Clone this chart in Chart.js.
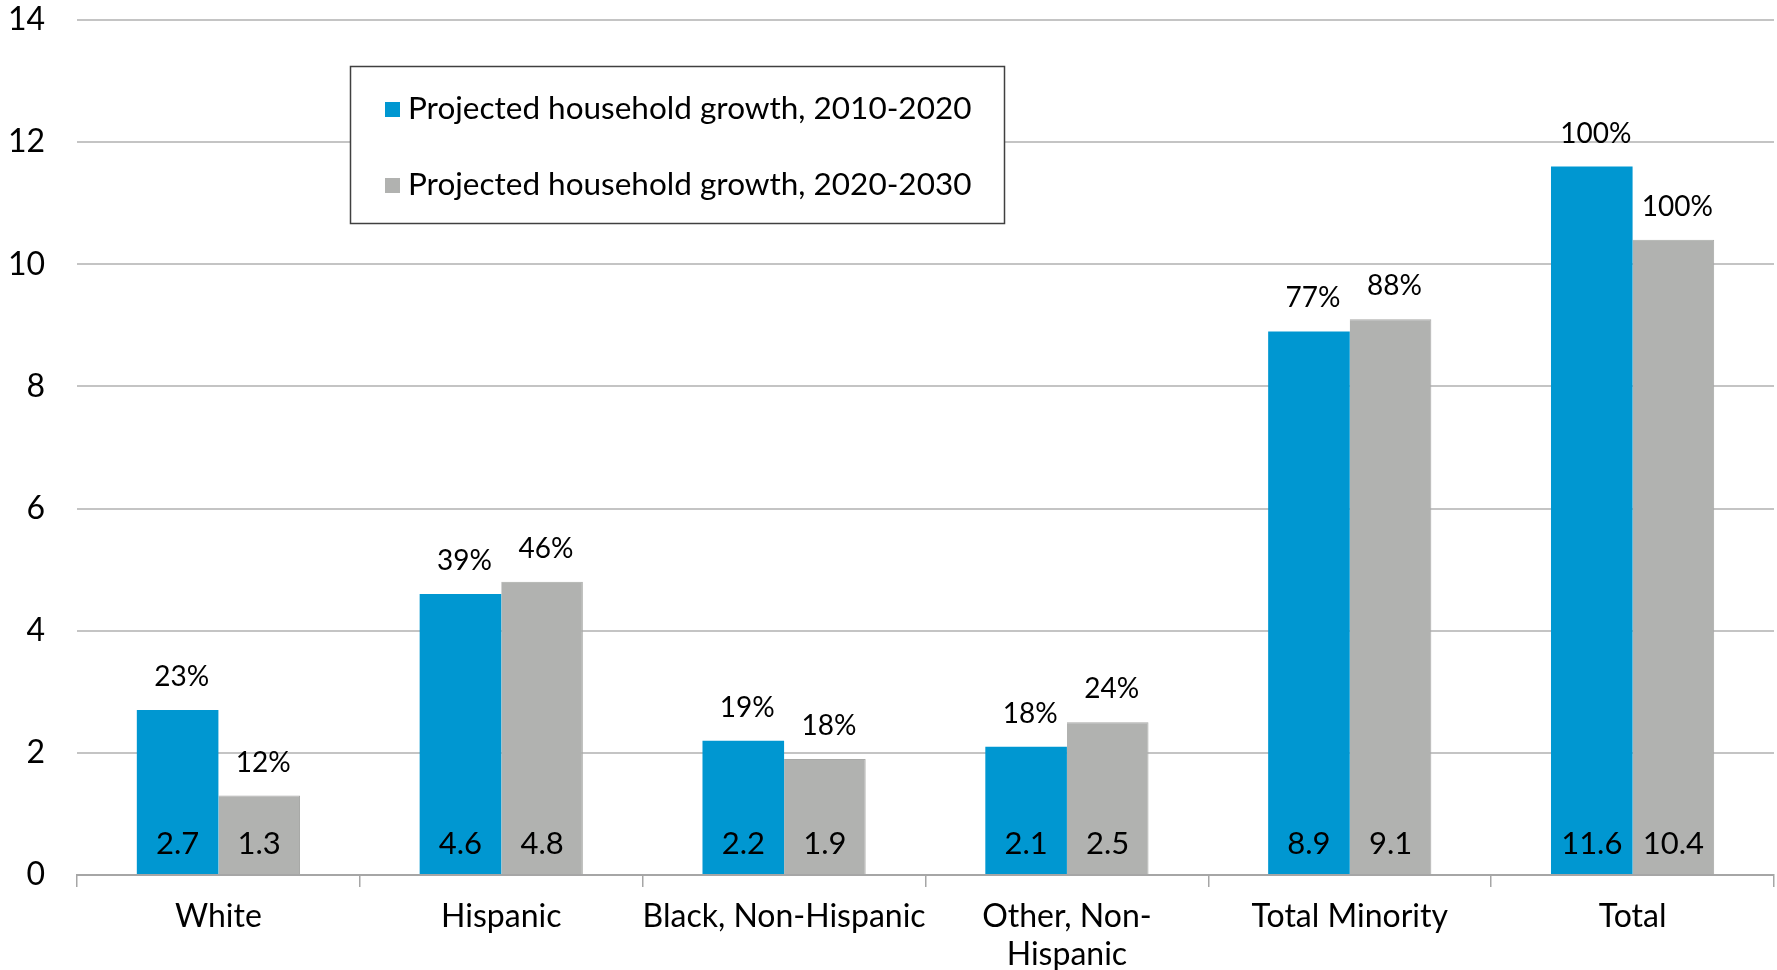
<!DOCTYPE html>
<html><head><meta charset="utf-8">
<script src="https://cdn.jsdelivr.net/npm/chart.js@4.4.0/dist/chart.umd.min.js"></script>
<style>html,body{margin:0;padding:0;background:#fff;overflow:hidden;}</style>
</head><body><canvas id="c" width="1777" height="970"></canvas>
<script>
const categories = ['White', 'Hispanic', 'Black, Non-Hispanic', ['Other, Non-', 'Hispanic'], 'Total Minority', 'Total'];
const seriesNames = ['Projected household growth, 2010-2020', 'Projected household growth, 2020-2030'];
const growth2010s = [2.7, 4.6, 2.2, 2.1, 8.9, 11.6];
const growth2020s = [1.3, 4.8, 1.9, 2.5, 9.1, 10.4];
const share2010s = ['23%', '39%', '19%', '18%', '77%', '100%'];
const share2020s = ['12%', '46%', '18%', '24%', '88%', '100%'];
const yTicks = [0, 2, 4, 6, 8, 10, 12, 14];

const FONT = 'Lato, "Open Sans", sans-serif';
const BLUE = '#0097D1';
const GRAY = '#B1B2B0';

const barLabels = {
  id: 'barLabels',
  afterDatasetsDraw(chart) {
    const ctx = chart.ctx;
    const shares = [share2010s, share2020s];
    ctx.save();
    ctx.fillStyle = '#000';
    ctx.textAlign = 'center';
    ctx.textBaseline = 'middle';
    chart.data.datasets.forEach((ds, di) => {
      const meta = chart.getDatasetMeta(di);
      meta.data.forEach((el, i) => {
        ctx.font = '28px ' + FONT;
        ctx.fillText(shares[di][i], el.x + 4, el.y - 33);
        ctx.font = '31px ' + FONT;
        ctx.fillText(ds.data[i].toFixed(1), el.x, el.base - 30);
      });
    });
    ctx.restore();
  }
};

const boxLegend = {
  id: 'boxLegend',
  afterDraw(chart) {
    const ctx = chart.ctx;
    ctx.save();
    const bx = 350, by = 66, bw = 654, bh = 157;
    ctx.fillStyle = '#fff';
    ctx.fillRect(bx, by, bw, bh);
    ctx.strokeStyle = '#404040';
    ctx.lineWidth = 1.5;
    ctx.strokeRect(bx + 0.5, by + 0.5, bw, bh);
    ctx.font = '31.5px ' + FONT;
    ctx.textBaseline = 'middle';
    ctx.textAlign = 'left';
    chart.data.datasets.forEach((ds, di) => {
      const cy = 109 + di * 76;
      ctx.fillStyle = ds.backgroundColor;
      ctx.fillRect(385, cy - 7, 15, 15);
      ctx.fillStyle = '#000';
      ctx.fillText(ds.label, 408, cy);
    });
    ctx.restore();
  }
};

new Chart(document.getElementById('c'), {
  type: 'bar',
  data: {
    labels: categories,
    datasets: [
      { label: seriesNames[0], data: growth2010s, backgroundColor: BLUE, borderWidth: 0 },
      { label: seriesNames[1], data: growth2020s, backgroundColor: GRAY, borderColor: '#A8A9A7', borderWidth: { top: 1, left: 0, right: 1, bottom: 0 } }
    ]
  },
  options: {
    responsive: false,
    animation: false,
    devicePixelRatio: 1,
    categoryPercentage: 0.577,
    barPercentage: 1.0,
    layout: { padding: { top: 20, right: 3, bottom: 0, left: 0 } },
    plugins: {
      legend: { display: false },
      tooltip: { enabled: false }
    },
    scales: {
      x: {
        afterFit(s) { s.height = 95; s.paddingLeft = 0; s.paddingRight = 0; },
        grid: { display: true, drawOnChartArea: false, drawTicks: true, tickLength: 12, color: '#A6A6A6', lineWidth: 1.5, offset: true },
        border: { display: true, color: '#A6A6A6', width: 2 },
        ticks: { color: '#000', font: { family: FONT, size: 32, lineHeight: 1.18 }, padding: 11, maxRotation: 0, autoSkip: false }
      },
      y: {
        min: 0, max: 14,
        afterFit(s) { s.width = 77; s.paddingTop = 0; s.paddingBottom = 0; },
        afterBuildTicks(s) { s.ticks = yTicks.map(v => ({ value: v })); },
        grid: { color: '#C4C4C4', lineWidth: 2, drawTicks: false },
        border: { display: false },
        ticks: { color: '#000', font: { family: FONT, size: 32 }, padding: 32 }
      }
    }
  },
  plugins: [barLabels, boxLegend]
});
</script>
</body></html>
